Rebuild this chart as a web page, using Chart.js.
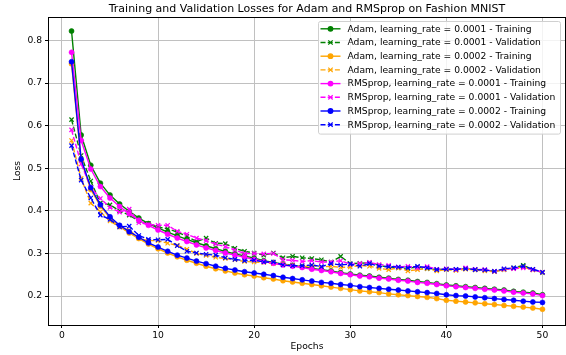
<!DOCTYPE html>
<html lang="en">
<head>
  <meta charset="UTF-8">
  <title>Training and Validation Losses</title>
  <script src="https://cdn.jsdelivr.net/npm/chart.js"></script>
  <style>
    html, body { margin: 0; padding: 0; background: #fff; }
    #wrap { width: 566px; height: 355px; }
  </style>
</head>
<body>
  <div id="wrap"><canvas id="lossChart" width="566" height="355"></canvas></div>

  <script>
    const epochs = [1, 2, 3, 4, 5, 6, 7, 8, 9, 10, 11, 12, 13, 14, 15, 16, 17, 18, 19, 20,
      21, 22, 23, 24, 25, 26, 27, 28, 29, 30, 31, 32, 33, 34, 35, 36, 37, 38, 39, 40,
      41, 42, 43, 44, 45, 46, 47, 48, 49, 50];

    // Adam, lr = 0.0001
    const adam1Train = [0.822, 0.578, 0.507, 0.465, 0.437, 0.416, 0.399, 0.383, 0.370, 0.360,
      0.350, 0.341, 0.333, 0.325, 0.318, 0.311, 0.305, 0.299, 0.294, 0.289,
      0.283, 0.279, 0.275, 0.272, 0.269, 0.265, 0.262, 0.259, 0.255, 0.252,
      0.249, 0.247, 0.244, 0.242, 0.239, 0.237, 0.234, 0.232, 0.229, 0.226,
      0.224, 0.222, 0.220, 0.218, 0.216, 0.214, 0.211, 0.209, 0.207, 0.203];
    const adam1Val = [0.614, 0.530, 0.470, 0.418, 0.414, 0.400, 0.390, 0.376, 0.370, 0.362,
      0.358, 0.350, 0.340, 0.328, 0.336, 0.324, 0.323, 0.312, 0.305, 0.301,
      0.296, 0.301, 0.290, 0.293, 0.290, 0.288, 0.285, 0.280, 0.293, 0.276,
      0.277, 0.278, 0.272, 0.268, 0.266, 0.265, 0.268, 0.264, 0.262, 0.263,
      0.262, 0.264, 0.262, 0.261, 0.258, 0.262, 0.266, 0.272, 0.262, 0.255];

    // Adam, lr = 0.0002
    const adam2Train = [0.745, 0.518, 0.450, 0.411, 0.383, 0.363, 0.348, 0.335, 0.322, 0.311,
      0.301, 0.292, 0.284, 0.277, 0.270, 0.264, 0.259, 0.254, 0.250, 0.247,
      0.243, 0.240, 0.236, 0.233, 0.230, 0.227, 0.224, 0.221, 0.218, 0.215,
      0.212, 0.210, 0.208, 0.205, 0.203, 0.201, 0.199, 0.197, 0.194, 0.190,
      0.188, 0.186, 0.184, 0.182, 0.180, 0.178, 0.176, 0.174, 0.172, 0.169];
    const adam2Val = [0.565, 0.476, 0.418, 0.398, 0.376, 0.362, 0.355, 0.336, 0.330, 0.330,
      0.324, 0.319, 0.310, 0.300, 0.295, 0.291, 0.288, 0.285, 0.281, 0.280,
      0.279, 0.276, 0.275, 0.272, 0.268, 0.272, 0.268, 0.270, 0.267, 0.268,
      0.272, 0.270, 0.265, 0.262, 0.266, 0.259, 0.262, 0.264, 0.259, 0.262,
      0.260, 0.263, 0.261, 0.259, 0.257, 0.262, 0.265, 0.268, 0.261, 0.256];

    // RMSprop, lr = 0.0001
    const rms1Train = [0.772, 0.565, 0.498, 0.457, 0.430, 0.410, 0.393, 0.378, 0.366, 0.355,
      0.345, 0.336, 0.328, 0.320, 0.313, 0.307, 0.301, 0.296, 0.291, 0.286,
      0.281, 0.277, 0.273, 0.270, 0.267, 0.263, 0.260, 0.257, 0.253, 0.250,
      0.247, 0.245, 0.242, 0.240, 0.237, 0.235, 0.232, 0.230, 0.227, 0.224,
      0.222, 0.220, 0.218, 0.216, 0.214, 0.212, 0.209, 0.207, 0.205, 0.201];
    const rms1Val = [0.590, 0.510, 0.455, 0.429, 0.408, 0.397, 0.404, 0.372, 0.368, 0.366,
      0.366, 0.352, 0.345, 0.336, 0.330, 0.322, 0.316, 0.308, 0.300, 0.300,
      0.299, 0.300, 0.285, 0.284, 0.281, 0.283, 0.280, 0.280, 0.283, 0.275,
      0.276, 0.279, 0.274, 0.272, 0.268, 0.270, 0.266, 0.269, 0.263, 0.264,
      0.262, 0.266, 0.263, 0.262, 0.258, 0.263, 0.264, 0.266, 0.262, 0.256];

    // RMSprop, lr = 0.0002
    const rms2Train = [0.750, 0.521, 0.454, 0.414, 0.386, 0.366, 0.351, 0.338, 0.325, 0.315,
      0.305, 0.296, 0.289, 0.282, 0.276, 0.270, 0.265, 0.261, 0.257, 0.254,
      0.251, 0.248, 0.244, 0.241, 0.238, 0.235, 0.232, 0.230, 0.227, 0.225,
      0.222, 0.220, 0.218, 0.216, 0.214, 0.212, 0.210, 0.208, 0.206, 0.203,
      0.201, 0.200, 0.198, 0.196, 0.194, 0.192, 0.190, 0.188, 0.186, 0.185];
    const rms2Val = [0.553, 0.472, 0.430, 0.390, 0.380, 0.362, 0.364, 0.342, 0.333, 0.332,
      0.333, 0.318, 0.305, 0.301, 0.298, 0.296, 0.290, 0.286, 0.283, 0.284,
      0.280, 0.280, 0.273, 0.271, 0.271, 0.273, 0.269, 0.276, 0.273, 0.275,
      0.270, 0.276, 0.270, 0.269, 0.268, 0.266, 0.270, 0.266, 0.262, 0.263,
      0.263, 0.264, 0.262, 0.261, 0.258, 0.264, 0.266, 0.270, 0.263, 0.256];

    const seriesLabels = [
      'Adam, learning_rate = 0.0001 - Training',
      'Adam, learning_rate = 0.0001 - Validation',
      'Adam, learning_rate = 0.0002 - Training',
      'Adam, learning_rate = 0.0002 - Validation',
      'RMSprop, learning_rate = 0.0001 - Training',
      'RMSprop, learning_rate = 0.0001 - Validation',
      'RMSprop, learning_rate = 0.0002 - Training',
      'RMSprop, learning_rate = 0.0002 - Validation'
    ];
    const seriesValues = [adam1Train, adam1Val, adam2Train, adam2Val, rms1Train, rms1Val, rms2Train, rms2Val];
    const seriesColors = ['#008000', '#008000', '#ffa500', '#ffa500', '#ff00ff', '#ff00ff', '#0000ff', '#0000ff'];

    const xTicks = [0, 10, 20, 30, 40, 50];
    const yTicks = [0.2, 0.3, 0.4, 0.5, 0.6, 0.7, 0.8];

    const chartTitle = 'Training and Validation Losses for Adam and RMSprop on Fashion MNIST';
    const FONT = 'DejaVu Sans';
    const DASH = [5, 2.2];

    const datasets = seriesValues.map((vals, i) => {
      const isVal = i % 2 === 1;
      return {
        label: seriesLabels[i],
        data: vals.map((v, k) => ({ x: epochs[k], y: v })),
        borderColor: seriesColors[i],
        backgroundColor: seriesColors[i],
        borderWidth: 1.4,
        borderDash: isVal ? DASH : [],
        pointStyle: isVal ? 'crossRot' : 'circle',
        pointRadius: isVal ? 3 : 2.5,
        pointBorderWidth: isVal ? 1.2 : 0.6,
        pointBackgroundColor: seriesColors[i],
        pointBorderColor: seriesColors[i],
        tension: 0,
        fill: false,
        order: seriesValues.length - i
      };
    });

    // title over the axes, frame, and matplotlib style legend box
    const framePlugin = {
      id: 'frameAndLegend',
      afterDatasetsDraw(chart) {
        const ctx = chart.ctx;
        const a = chart.chartArea;
        ctx.save();
        ctx.strokeStyle = '#000';
        ctx.lineWidth = 1;
        ctx.strokeRect(Math.round(a.left) + 0.5, Math.round(a.top) + 0.5,
          Math.round(a.right - a.left) - 1, Math.round(a.bottom - a.top));

        ctx.fillStyle = '#000';
        ctx.font = '11px "' + FONT + '"';
        ctx.textAlign = 'center';
        ctx.textBaseline = 'alphabetic';
        ctx.fillText(chartTitle, (a.left + a.right) / 2, a.top - 5.5);

        const w = 242, rowH = 13.7;
        const h = rowH * seriesLabels.length + 3;
        const x0 = a.right - 6 - w, y0 = a.top + 4;
        ctx.beginPath();
        ctx.roundRect(x0 + 0.5, y0 + 0.5, w, h, 2);
        ctx.fillStyle = 'rgba(255,255,255,0.8)';
        ctx.fill();
        ctx.strokeStyle = '#d0d0d0';
        ctx.stroke();

        ctx.font = '9.2px "' + FONT + '"';
        ctx.textAlign = 'left';
        ctx.textBaseline = 'middle';
        seriesLabels.forEach((lab, i) => {
          const cy = y0 + 7.8 + i * rowH;
          const lx = x0 + 2.5;
          const col = seriesColors[i];
          const isVal = i % 2 === 1;
          ctx.strokeStyle = col;
          ctx.lineWidth = 1.4;
          ctx.setLineDash(isVal ? DASH : []);
          ctx.beginPath();
          ctx.moveTo(lx, cy);
          ctx.lineTo(lx + 20, cy);
          ctx.stroke();
          ctx.setLineDash([]);
          const mx = lx + 10;
          if (isVal) {
            ctx.lineWidth = 1.2;
            ctx.beginPath();
            ctx.moveTo(mx - 2.2, cy - 2.2); ctx.lineTo(mx + 2.2, cy + 2.2);
            ctx.moveTo(mx - 2.2, cy + 2.2); ctx.lineTo(mx + 2.2, cy - 2.2);
            ctx.stroke();
          } else {
            ctx.fillStyle = col;
            ctx.beginPath();
            ctx.arc(mx, cy, 2.9, 0, Math.PI * 2);
            ctx.fill();
          }
          ctx.fillStyle = '#000';
          ctx.fillText(lab, lx + 27, cy + 0.5);
        });
        ctx.restore();
      }
    };

    const ctx = document.getElementById('lossChart').getContext('2d');
    new Chart(ctx, {
      type: 'line',
      data: { datasets },
      options: {
        responsive: false,
        animation: false,
        devicePixelRatio: 1,
        layout: { autoPadding: false, padding: { left: 0, right: 0, top: 17, bottom: 0 } },
        plugins: {
          legend: { display: false },
          tooltip: { enabled: false },
          title: { display: false }
        },
        scales: {
          x: {
            type: 'linear',
            min: -1.45,
            max: 52.45,
            afterBuildTicks: s => { s.ticks = xTicks.map(v => ({ value: v })); },
            afterFit: s => { s.height = 30; },
            ticks: { color: '#000', font: { family: FONT, size: 9.2 }, padding: 2, maxRotation: 0 },
            grid: { color: '#c0c0c0', lineWidth: 1, tickColor: '#000', tickLength: 3, drawTicks: true },
            border: { display: false },
            title: { display: true, text: 'Epochs', color: '#000', font: { family: FONT, size: 9.2 }, padding: { top: 0, bottom: 3 } }
          },
          y: {
            type: 'linear',
            min: 0.132,
            max: 0.855,
            afterBuildTicks: s => { s.ticks = yTicks.map(v => ({ value: v })); },
            afterFit: s => { s.width = 48; },
            ticks: { color: '#000', font: { family: FONT, size: 9.2 }, padding: 3, callback: v => v.toFixed(1) },
            grid: { color: '#c0c0c0', lineWidth: 1, tickColor: '#000', tickLength: 3, drawTicks: true },
            border: { display: false },
            title: { display: true, text: 'Loss', color: '#000', font: { family: FONT, size: 9.2 }, padding: { top: 12, bottom: 0 } }
          }
        }
      },
      plugins: [framePlugin]
    });
  </script>
</body>
</html>
